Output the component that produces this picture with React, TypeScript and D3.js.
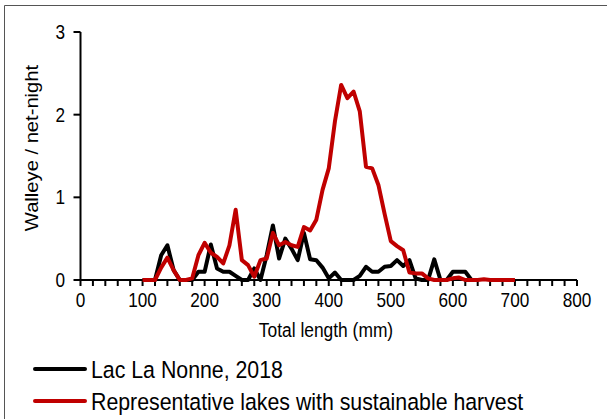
import React from "react";
import * as d3 from "d3";

const lengthsBlack = [100,110,120,130,140,150,160,170,180,190,200,210,220,230,240,250,260,270,280,290,300,310,320,330,340,350,360,370,380,390,400,410,420,430,440,450,460,470,480,490,500,510,520,530,540,550,560,570,580,590,600,610,620,630];
const lacLaNonne = [0,0,0,0.3,0.42,0.12,0,0,0,0.1,0.1,0.43,0.14,0.1,0.1,0.05,0,0,0.14,0,0.3,0.66,0.26,0.5,0.38,0.24,0.57,0.25,0.24,0.15,0.02,0.09,0,0,0,0.05,0.16,0.1,0.1,0.16,0.17,0.24,0.17,0.24,0.02,0,0,0.25,0,0,0.1,0.1,0.1,0];

const lengthsRed = [100,110,120,130,140,150,160,170,180,190,200,210,220,230,240,250,260,270,280,290,300,310,320,330,340,350,360,370,380,390,400,410,420,430,440,450,460,470,480,490,500,510,520,530,540,550,560,570,580,590,600,610,620,630,640,650,660,670,680,690,700];
const representative = [0,0,0,0.15,0.27,0.12,0,0,0.02,0.3,0.45,0.33,0.28,0.2,0.42,0.85,0.24,0.18,0.04,0.24,0.26,0.57,0.42,0.46,0.42,0.4,0.64,0.6,0.73,1.09,1.35,1.92,2.36,2.2,2.28,2.04,1.37,1.35,1.15,0.8,0.47,0.41,0.36,0.09,0.08,0.08,0.02,0,0,0,0.02,0.03,0,0,0,0.01,0,0,0,0,0];

const xTicks = [0,100,200,300,400,500,600,700,800];
const yTicks = [0,1,2,3];
const legendLabels = ["Lac La Nonne, 2018", "Representative lakes with sustainable harvest"];
const seriesColors = ["#000000", "#C00000"];

const FONT = "Arial, 'Liberation Sans', Helvetica, sans-serif";

function SText({ x, y, sx = 1, sy = 1, rotate = 0, size, anchor = "start", children }: any) {
  return (
    <g transform={`translate(${x},${y}) rotate(${rotate}) scale(${sx},${sy})`}>
      <text x={0} y={0} fontSize={size} fontFamily={FONT} textAnchor={anchor} fill="#000">
        {children}
      </text>
    </g>
  );
}

export default function App() {
  const W = 607, H = 419;
  const x = d3.scaleLinear().domain([0, 800]).range([80.5, 577]);
  const y = d3.scaleLinear().domain([0, 3]).range([280, 32]);
  const line = d3.line<[number, number]>().x(d => x(d[0])).y(d => y(d[1]));
  const blackPts: [number, number][] = lengthsBlack.map((l, i) => [l, lacLaNonne[i]]);
  const redPts: [number, number][] = lengthsRed.map((l, i) => [l, representative[i]]);
  const minor = d3.range(0, 801, 20);

  return (
    <svg width={W} height={H} style={{ position: "absolute", left: 0, top: 0, background: "#fff" }}>
      <rect x={0} y={0} width={W} height={H} fill="#fff" />
      {/* frame */}
      <line x1={4.5} x2={W} y1={5.5} y2={5.5} stroke="#555" strokeWidth={1} />
      <line x1={4.5} x2={4.5} y1={5.5} y2={H} stroke="#555" strokeWidth={1} />

      {/* y axis */}
      <line x1={x(0)} x2={x(0)} y1={y(3)} y2={y(0)} stroke="#000" strokeWidth={2} />
      {yTicks.map(t => (
        <g key={t}>
          <line x1={x(0) - 7} x2={x(0)} y1={y(t)} y2={y(t)} stroke="#000" strokeWidth={2} />
          <SText x={65} y={y(t) + 7} sx={0.86} size={20} anchor="end">{t}</SText>
        </g>
      ))}
      {/* x axis */}
      <line x1={x(0)} x2={x(800)} y1={y(0)} y2={y(0)} stroke="#000" strokeWidth={2} />
      {minor.map(t => (
        <line key={t} x1={x(t)} x2={x(t)} y1={y(0)} y2={y(0) + 6} stroke="#000" strokeWidth={2} />
      ))}
      {xTicks.map(t => (
        <SText key={t} x={x(t)} y={307} sx={0.86} size={20} anchor="middle">{t}</SText>
      ))}

      {/* series */}
      <path d={line(blackPts) || ""} fill="none" stroke={seriesColors[0]} strokeWidth={4} strokeLinejoin="round" />
      <path d={line(redPts) || ""} fill="none" stroke={seriesColors[1]} strokeWidth={4} strokeLinejoin="round" />

      {/* axis titles */}
      <SText x={326} y={337} sx={0.87} size={20} anchor="middle">Total length  (mm)</SText>
      <SText x={38} y={148} rotate={-90} sx={1.085} size={18.6} anchor="middle">Walleye / net-night</SText>

      {/* legend */}
      {legendLabels.map((lab, i) => (
        <g key={lab}>
          <line x1={35} x2={85} y1={369 + i * 32} y2={369 + i * 32} stroke={seriesColors[i]} strokeWidth={4} strokeLinecap="round" />
          <SText x={91} y={369 + i * 32 + 8.5} sx={0.87} size={24.5}>{lab}</SText>
        </g>
      ))}
    </svg>
  );
}
